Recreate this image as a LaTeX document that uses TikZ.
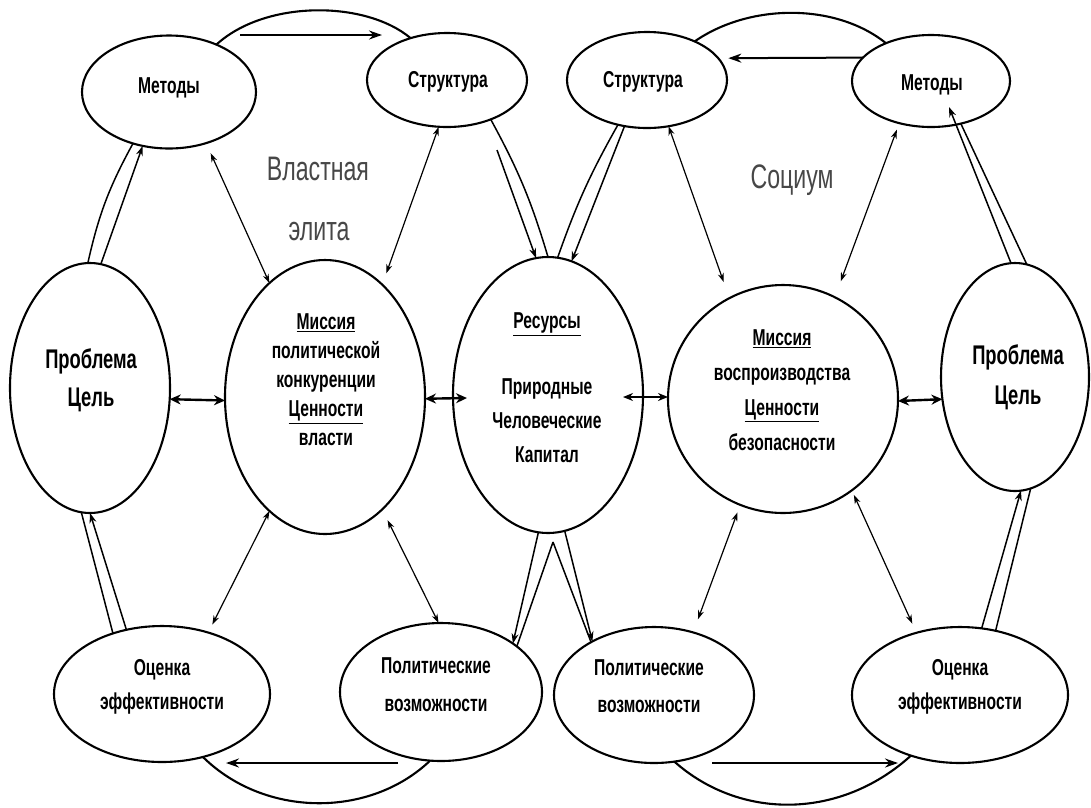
\documentclass[tikz,border=0pt]{standalone}
\usepackage{fontspec}
\setmainfont{Liberation Sans}[FakeStretch=0.68]
\usetikzlibrary{shapes.geometric,arrows.meta,calc}
\begin{document}
\begin{tikzpicture}[x=1pt,y=-1pt]
\tikzset{
  ell/.style={ellipse, draw, line width=2.1pt, inner sep=0pt, outer sep=0pt},
  lbl/.style={align=center, inner sep=0pt, font=\fontsize{23}{#1}\selectfont\bfseries},
  lbl/.default=30,
  big/.style={align=center, inner sep=0pt, font=\fontsize{27}{#1}\selectfont\bfseries},
  ttl/.style={inner sep=0pt, anchor=base, text=black!72, font=\fontsize{34}{34}\selectfont},
  twin/.style={<->, line width=1.2pt, >={Stealth[length=9pt,width=6pt]}},
  bold2/.style={<->, line width=2.4pt, >={Stealth[length=11pt,width=10pt]}},
  mid2/.style={<->, line width=1.6pt, >={Stealth[length=10pt,width=8pt]}},
  flow/.style={-{Stealth[length=13pt,width=9pt]}, line width=2pt},
  pln/.style={line width=1.5pt},
  parr/.style={-{Stealth[length=10pt,width=7pt]}, line width=1.5pt},
  arcl/.style={line width=2.1pt},
}
\fill[white] (0,0) rectangle (1091,807);
\useasboundingbox (0,0) rectangle (1091,807);

% ellipses
\node[ell, minimum width=174pt, minimum height=113pt] (ML) at (169,92) {};
\node[ell, minimum width=160pt, minimum height=94pt]  (SL) at (447,80) {};
\node[ell, minimum width=160pt, minimum height=96pt]  (SR) at (647,80) {};
\node[ell, minimum width=158pt, minimum height=92pt]  (MR) at (931,81) {};
\node[ell, minimum width=160pt, minimum height=250pt] (PL) at (90,388) {};
\node[ell, minimum width=200pt, minimum height=274pt] (KL) at (325,397) {};
\node[ell, minimum width=190pt, minimum height=276pt] (RS) at (548,395) {};
\node[ell, minimum width=230pt, minimum height=228pt] (KR) at (783,399) {};
\node[ell, minimum width=148pt, minimum height=228pt] (PR) at (1015,377) {};
\node[ell, minimum width=216pt, minimum height=136pt] (OL) at (162,694) {};
\node[ell, minimum width=202pt, minimum height=138pt] (VL) at (441,692) {};
\node[ell, minimum width=200pt, minimum height=136pt] (VR) at (654,695) {};
\node[ell, minimum width=216pt, minimum height=136pt] (OR) at (960,695) {};

% labels
\node[lbl, anchor=base] (MLt) at (169,93) {Методы};
\node[lbl, anchor=base] (SLt) at (448,87) {Структура};
\node[lbl, anchor=base] (SRt) at (643,87) {Структура};
\node[lbl, anchor=base] (MRt) at (932,90) {Методы};
\node[big=38] (PLt) at (91,380) {Проблема\\Цель};
\node[lbl=29] (KLt) at (326,380) {\underline{Миссия}\\политической\\конкуренции\\\underline{Ценности}\\власти};
\node[lbl=34] (RSt) at (547,388) {\underline{Ресурсы}\\[32pt]Природные\\Человеческие\\Капитал};
\node[lbl=35] (KRt) at (782,390) {\underline{Миссия}\\воспроизводства\\\underline{Ценности}\\безопасности};
\node[big=40] (PRt) at (1018,377) {Проблема\\Цель};
\node[lbl=34] (OLt) at (162,687) {Оценка\\эффективности};
\node[lbl=38] (VLt) at (436,685) {Политические\\возможности};
\node[lbl=37] (VRt) at (649,686) {Политические\\возможности};
\node[lbl=34] (ORt) at (960,687) {Оценка\\эффективности};

\node[ttl] (t1) at (318,180) {Властная};
\node[ttl] (t2) at (319,240) {элита};
\node[ttl] (t3) at (792,188) {Социум};

% top and bottom arcs with arrows
\draw[arcl] (ML.45) .. controls (265,0) and (365,0) .. (SL.131);
\coordinate (tla) at (240,35); \coordinate (tlb) at (382,35);
\draw[flow] (tla) -- (tlb);
\draw[arcl] (SR.39) .. controls (750,3) and (836,3) .. (MR.140);
\draw[flow, shorten >=10pt] (MR.161) -- (SR.17);
\draw[arcl] (VL.261) .. controls (370,818) and (265,818) .. (OL.303);
\coordinate (bla) at (398,763); \coordinate (blb) at (226,763);
\draw[flow] (bla) -- (blb);
\draw[arcl] (VR.287) .. controls (740,820) and (840,820) .. (OR.231);
\coordinate (bra) at (712,763); \coordinate (brb) at (898,763);
\draw[flow] (bra) -- (brb);

% paired connectors
\draw[pln] (PL.91) to[bend left=8] (ML.235);
\draw[parr] (PL.85) -- (ML.244);
\draw[pln] (SL.318) to[bend left=6] (RS.90);
\coordinate (sla) at (497,150);
\draw[parr] (sla) -- (RS.95);
\draw[pln] (SR.237) to[bend right=5] (RS.86);
\draw[parr] (SR.244) -- (RS.80);
\coordinate (rsb) at (553,542);
\draw[parr] (RS.266) -- (VL.34);
\draw[pln] (rsb) -- (VL.31);
\draw[parr] (RS.277) -- (VR.139);
\draw[pln] (rsb) -- (VR.140);
\draw[pln] (OL.129) -- (PL.266);
\draw[parr] (OL.119) -- (PL.270);
\draw[parr] (PR.92) -- ($(MR.center)+(18,26)$);
\draw[pln] (PR.84) -- (MR.305);
\draw[parr] (OR.72) -- (PR.273);
\draw[pln] (OR.61) -- (PR.278);

% thin double arrows
\draw[twin, shorten <=11pt] (ML.306) -- (KL.116);
\draw[twin, shorten >=12pt] (SL.260) -- (KL.63);
\draw[twin, shorten >=9pt] (KL.244) -- (OL.53);
\draw[twin, shorten <=12pt] (KL.297) -- (VL.92);
\draw[twin, shorten >=17pt] (SR.295) -- (KR.118);
\draw[twin, shorten <=7pt, shorten >=17pt] (MR.233) -- (KR.63);
\draw[twin, shorten <=8pt, shorten >=14pt] (KR.248) -- (VR.58);
\draw[twin, shorten <=5pt, shorten >=10pt] (KR.307) -- (OR.125);

% horizontal double arrows
\draw[bold2] (PL.-8.5) -- (KL.182);
\draw[bold2] (KL.-1) -- ($(RS.west)+(14,3)$);
\draw[mid2] ($(RS.east)+(-20,2)$) -- (KR.179);
\draw[bold2] (KR.-1) -- (PR.197);
\end{tikzpicture}
\end{document}
